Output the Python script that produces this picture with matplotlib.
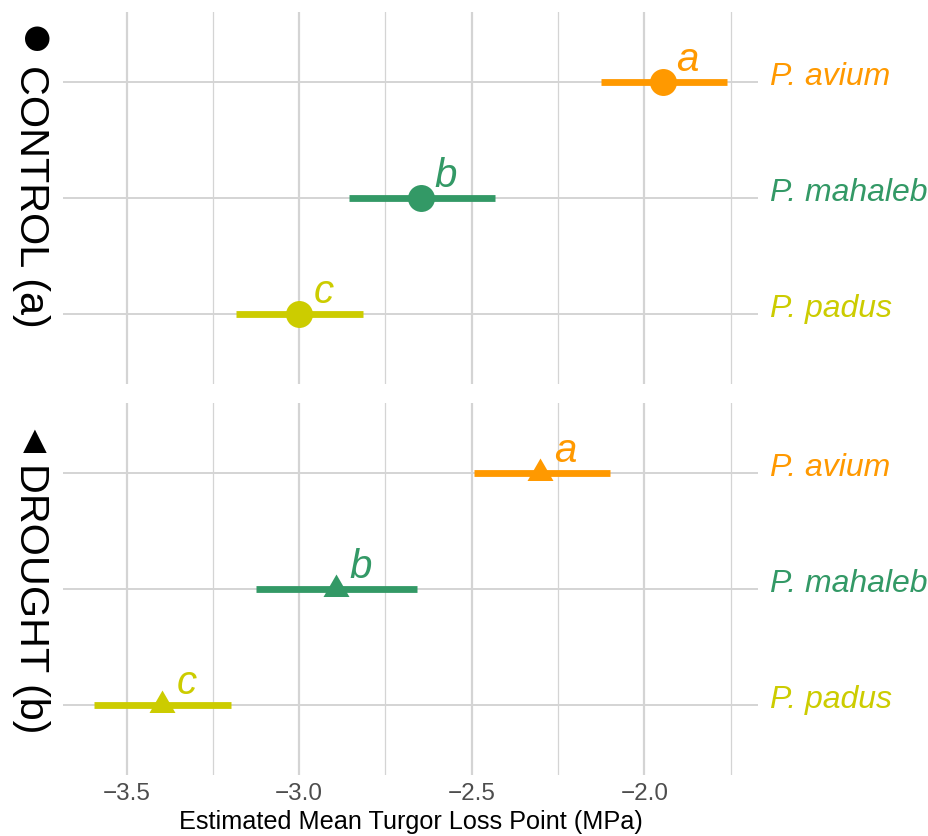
import matplotlib
matplotlib.use("Agg")
import matplotlib.pyplot as plt
import numpy as np

plt.rcParams['font.family'] = ['Liberation Sans', 'DejaVu Sans']

species = ["P. padus", "P. mahaleb", "P. avium"]
colors = ["#CCCC00", "#339966", "#FF9900"]
letters = ["c", "b", "a"]

ctrl_mean = [-3.000, -2.646, -1.945]
ctrl_lo = [-3.182, -2.857, -2.127]
ctrl_hi = [-2.815, -2.434, -1.760]

drought_mean = [-3.396, -2.892, -2.301]
drought_lo = [-3.593, -3.124, -2.495]
drought_hi = [-3.196, -2.660, -2.101]

major_ticks = [-3.5, -3.0, -2.5, -2.0]
minor_ticks = [-3.25, -2.75, -2.25, -1.75]
tick_labels = ["\u22123.5", "\u22123.0", "\u22122.5", "\u22122.0"]

W, H = 929, 836
fig = plt.figure(figsize=(W / 100, H / 100), dpi=100)

left = 63 / W
width = (758 - 63) / W
ax1 = fig.add_axes([left, 1 - 383.6 / H, width, 371.2 / H])
ax2 = fig.add_axes([left, 1 - 774.6 / H, width, 371.2 / H])

grid_col = "#D4D4D4"

def setup(ax, means, los, his, marker, ms, show_x):
    ypos = np.arange(1, len(species) + 1)
    ax.set_xlim(-3.684, -1.671)
    ax.set_ylim(0.4, 3.6)
    ax.set_xticks(major_ticks)
    ax.set_xticks(minor_ticks, minor=True)
    ax.set_yticks(ypos)
    ax.set_yticklabels([])
    for s in ax.spines.values():
        s.set_visible(False)
    ax.tick_params(axis='both', which='both', length=0)
    ax.grid(True, which='major', axis='x', color=grid_col, lw=1.6, zorder=0)
    ax.grid(True, which='minor', axis='x', color=grid_col, lw=0.9, zorder=0)
    ax.grid(True, which='major', axis='y', color=grid_col, lw=1.4, zorder=0)
    ax.set_axisbelow(True)
    if show_x:
        ax.set_xticklabels(tick_labels, fontsize=17.5, color="#4D4D4D")
        ax.tick_params(axis='x', pad=6)
    else:
        ax.set_xticklabels([])
    for i, y in enumerate(ypos):
        c = colors[i]
        ax.hlines(y, los[i], his[i], color=c, lw=4.9, zorder=3, capstyle='butt')
        ax.plot([means[i]], [y], marker=marker, ms=ms, color=c, mec=c, mew=0, zorder=4, ls='none')
        ax.annotate(letters[i], xy=(means[i], y), xytext=(17.5, 8.0), textcoords='offset points',
                    ha='center', va='baseline', fontsize=29, style='italic', color=c, zorder=5)
        ax.annotate(species[i], xy=(1.0173, y), xycoords=('axes fraction', 'data'),
                    xytext=(0, -2.2), textcoords='offset points',
                    ha='left', va='baseline', fontsize=23, style='italic', color=c,
                    annotation_clip=False)

tri = [(-1, -0.577), (1, -0.577), (0, 1.155)]
setup(ax1, ctrl_mean, ctrl_lo, ctrl_hi, 'o', 19.4, False)
setup(ax2, drought_mean, drought_lo, drought_hi, tri, 21.6, True)

ax2.set_xlabel("Estimated Mean Turgor Loss Point (MPa)", fontsize=18.2, color="black", labelpad=4)

# strip labels
fig.text(36 / W, 1 - 40 / H, "\u25CF", fontsize=41, ha='center', va='center', color='black')
fig.text(20.5 / W, 1 - 65 / H, "CONTROL (a)", fontsize=29.8, rotation=-90, rotation_mode='anchor',
         ha='left', va='baseline', color='black')
fig.text(35 / W, 1 - 442 / H, "\u25B2", fontsize=29, ha='center', va='center', color='black')
fig.text(20.5 / W, 1 - 463 / H, "DROUGHT (b)", fontsize=29.8, rotation=-90, rotation_mode='anchor',
         ha='left', va='baseline', color='black')

fig.savefig("out.png", dpi=100, facecolor='white')
